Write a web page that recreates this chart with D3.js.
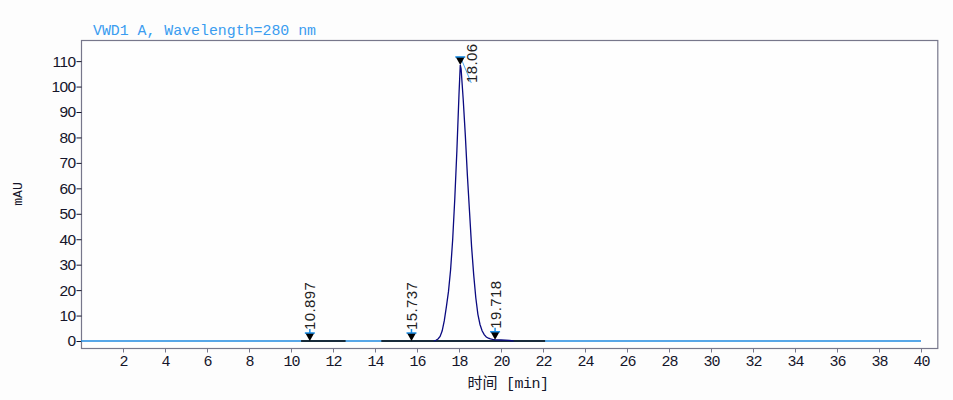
<!DOCTYPE html>
<html>
<head>
<meta charset="utf-8">
<script src="https://cdn.jsdelivr.net/npm/d3@7/dist/d3.min.js"></script>
<style>
html,body{margin:0;padding:0;background:#fdfdfd;}
svg{display:block;}
</style>
</head>
<body>
<svg id="chart" width="953" height="400"></svg>
<script>
// ---- data ----
const title = "VWD1 A, Wavelength=280 nm";
const xTicks = [2,4,6,8,10,12,14,16,18,20,22,24,26,28,30,32,34,36,38,40];
const yTicks = [0,10,20,30,40,50,60,70,80,90,100,110];
const runRange = [0, 40];
// signal (time in min, absorbance in mAU) around the main peak
const sigTime = [16.8,16.9,17.0,17.1,17.2,17.3,17.4,17.5,17.6,17.7,17.8,17.9,18.0,18.06,18.1,18.2,18.3,18.4,18.5,18.6,18.7,18.8,18.9,19.0,19.1,19.2,19.3,19.4,19.5,19.6,19.7,19.8,20.0,20.2,20.4,20.5,20.6];
const sigValue = [0,0.3,0.8,1.8,4.0,8.0,13.5,19.5,28,40,56,75,97,108.5,107,95,81,65,51,37,26,17,10.5,6.5,4.0,2.5,1.6,1.1,0.8,0.6,0.5,0.45,0.4,0.35,0.25,0.1,0];
// integrated peaks
const peakTime = [10.897, 15.737, 18.06, 19.718];
const peakHeight = [0, 0, 108.5, 0.5];
const peakLabel = ["10.897", "15.737", "18.06", "19.718"];
// integration baselines (start, end) in min
const baseStart = [10.48, 14.3];
const baseEnd = [12.6, 22.1];

// ---- layout ----
const svg = d3.select("#chart");
const L = 81, R = 937.8, T = 40, B = 348;
const x = d3.scaleLinear().domain([0, 40.8]).range([L, R]);
const y = d3.scaleLinear().domain([-2.75, 118.3]).range([B, T]);

const axisColor = "#77778b";
const textColor = "#15152a";

// frame
svg.append("rect").attr("x", L + 0.5).attr("y", T + 0.5)
  .attr("width", R - L - 0.5).attr("height", B - T)
  .attr("fill", "#fefefe").attr("stroke", axisColor).attr("stroke-width", 1.2);

// x axis
const gx = svg.append("g").attr("transform", `translate(0,${B + 0.5})`)
  .call(d3.axisBottom(x).tickValues(xTicks).tickSize(4).tickSizeOuter(0).tickPadding(3));
gx.select(".domain").remove();
gx.selectAll("line").attr("stroke", axisColor);
gx.selectAll("text").attr("fill", textColor)
  .style("font-family", "'Liberation Mono', 'DejaVu Sans Mono', monospace")
  .style("font-size", "15px").style("letter-spacing", "-1px");

// y axis
const gy = svg.append("g").attr("transform", `translate(${L + 0.5},0)`)
  .call(d3.axisLeft(y).tickValues(yTicks).tickSize(5).tickSizeOuter(0).tickPadding(1));
gy.select(".domain").remove();
gy.selectAll("line").attr("stroke", textColor);
gy.selectAll("text").attr("fill", textColor)
  .style("font-family", "'Liberation Sans', Arial, sans-serif")
  .style("font-size", "15.5px").style("letter-spacing", "-0.6px");

// title
svg.append("text").attr("x", 93).attr("y", 35).text(title)
  .attr("fill", "#3a9cf0")
  .attr("textLength", 223).attr("lengthAdjust", "spacingAndGlyphs")
  .style("font-family", "'Liberation Mono', 'DejaVu Sans Mono', monospace")
  .style("font-size", "15px");

// axis titles
svg.append("text").attr("transform", "translate(22,194) rotate(-90)")
  .attr("text-anchor", "middle").text("mAU").attr("fill", textColor)
  .style("font-family", "'Liberation Mono', monospace").style("font-size", "13px");
const xt = svg.append("text").attr("x", 508).attr("y", 388).attr("text-anchor", "middle")
  .attr("fill", textColor).style("font-size", "15px");
xt.append("tspan").text("时间").style("font-family", "'Noto Sans CJK SC', sans-serif");
xt.append("tspan").text(" [min]").style("font-family", "'Liberation Mono', monospace").style("letter-spacing", "-0.5px");

// flat signal trace in blue
const line = d3.line().x(d => x(d[0])).y(d => y(d[1]));
svg.append("path").datum([[runRange[0], 0], [runRange[1], 0]])
  .attr("d", line).attr("fill", "none").attr("stroke", "#1f8ae0").attr("stroke-width", 1.3);

// integration baselines
baseStart.forEach((s, i) => {
  svg.append("path").datum([[s, 0], [baseEnd[i], 0]])
    .attr("d", line).attr("fill", "none").attr("stroke", "#000").attr("stroke-width", 1.3);
});

// peak signal
const sig = sigTime.map((t, i) => [t, sigValue[i]]);
svg.append("path").datum(sig).attr("d", line)
  .attr("fill", "none").attr("stroke", "#0a0a80").attr("stroke-width", 1.3);

// peak markers and labels
const labelFont = "'Liberation Sans', Arial, sans-serif";
peakTime.forEach((t, i) => {
  const px = x(t), py = y(peakHeight[i]);
  const g = svg.append("g");
  const isMain = peakHeight[i] > 50;
  if (!isMain) {
    g.append("line").attr("x1", px).attr("x2", px).attr("y1", py - 12).attr("y2", py - 7)
      .attr("stroke", "#1a8ee6").attr("stroke-width", 1.5);
  } else {
    g.append("line").attr("x1", px + 1).attr("y1", py - 6).attr("x2", px + 11).attr("y2", py + 18)
      .attr("stroke", "#4aa8f0").attr("stroke-width", 1);
  }
  g.append("path")
    .attr("d", `M${px - 4.5},${py - 8} L${px + 4.5},${py - 8} L${px},${py} Z`)
    .attr("fill", "#000");
  g.append("line").attr("x1", px - 5).attr("x2", px + 5).attr("y1", py - 8).attr("y2", py - 8)
    .attr("stroke", "#1a8ee6").attr("stroke-width", 1.5);
  const lx = isMain ? px + 17 : px + 5.5;
  const ly = isMain ? py + 18 : py - 11;
  g.append("text").attr("transform", `translate(${lx},${ly}) rotate(-90)`)
    .text(peakLabel[i]).attr("fill", "#222")
    .style("font-family", labelFont).style("font-size", "15px").style("letter-spacing", "0.4px");
});
</script>
</body>
</html>
